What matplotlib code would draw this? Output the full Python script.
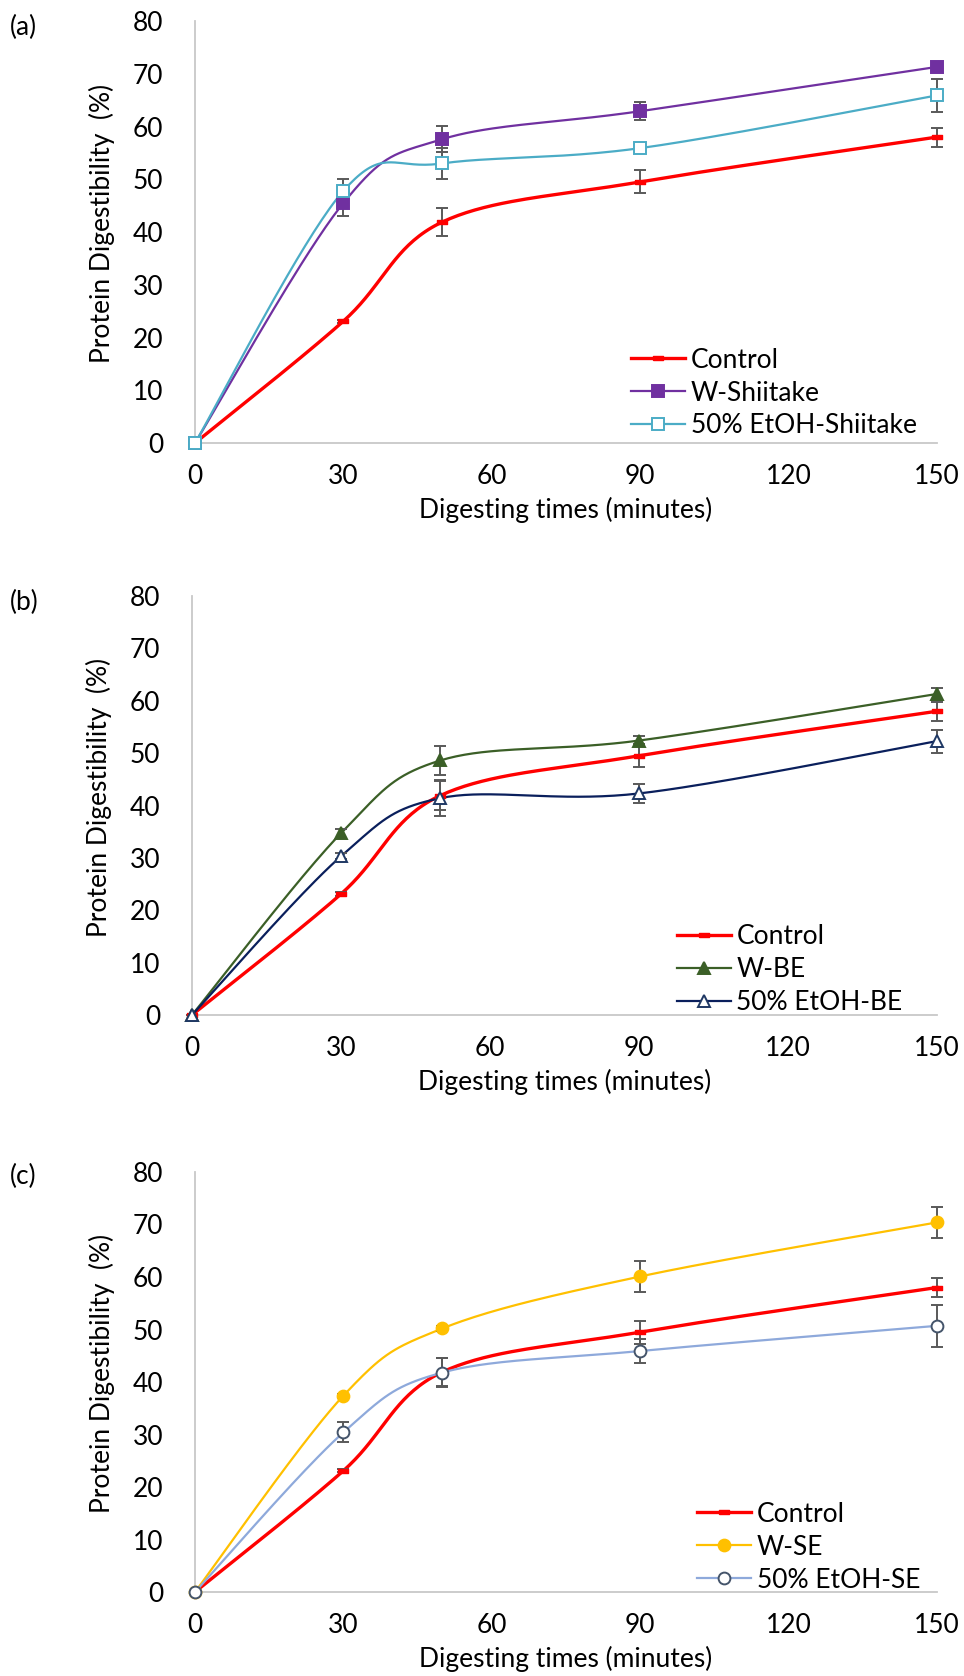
import numpy as np
import matplotlib
matplotlib.use('Agg')
import matplotlib.pyplot as plt
from matplotlib.lines import Line2D

plt.rcParams['font.family'] = ['Lato', 'DejaVu Sans']

# digestion time points (minutes)
times = [0, 30, 50, 90, 150]

control = [0, 23.1, 41.9, 49.5, 58.0]
control_err = [0, 0.3, 2.7, 2.2, 1.8]

# panel (a)
w_shiitake = [0, 45.5, 57.6, 62.9, 71.3]
w_shiitake_err = [0, 2.4, 2.5, 1.7, 0.4]
etoh_shiitake = [0, 47.8, 53.0, 55.9, 65.9]
etoh_shiitake_err = [0, 2.3, 2.9, 0.9, 3.1]

# panel (b)
w_be = [0, 34.7, 48.6, 52.4, 61.3]
w_be_err = [0, 0.9, 2.8, 0.9, 1.2]
etoh_be = [0, 30.3, 41.4, 42.3, 52.3]
etoh_be_err = [0, 0.6, 3.5, 1.8, 2.2]

# panel (c)
w_se = [0, 37.4, 50.2, 60.1, 70.4]
w_se_err = [0, 0.4, 0.5, 2.9, 2.9]
etoh_se = [0, 30.4, 41.8, 45.9, 50.7]
etoh_se_err = [0, 1.9, 2.8, 2.3, 4.0]

xticks = [0, 30, 60, 90, 120, 150]
yticks = [0, 10, 20, 30, 40, 50, 60, 70, 80]

FS = 19


def smooth(x, y, n=40):
    # excel-like smoothed line (catmull-rom as cubic bezier)
    pts = np.column_stack([x, y]).astype(float)
    pts = np.vstack([pts[0], pts, pts[-1]])
    out = []
    t = np.linspace(0, 1, n)[:, None]
    for i in range(1, len(pts) - 2):
        p0, p1, p2, p3 = pts[i - 1], pts[i], pts[i + 1], pts[i + 2]
        c1 = p1 + (p2 - p0) / 6
        c2 = p2 - (p3 - p1) / 6
        seg = ((1 - t) ** 3) * p1 + 3 * ((1 - t) ** 2) * t * c1 + 3 * (1 - t) * t ** 2 * c2 + t ** 3 * p2
        out.append(seg)
    out = np.vstack(out)
    return out[:, 0], out[:, 1]


# small flat rectangle used by excel for the control series
dash = [(-1, -0.45), (1, -0.45), (1, 0.45), (-1, 0.45), (-1, -0.45)]

fig = plt.figure(figsize=(9.64, 16.76), dpi=100)

# axes rectangles in figure fraction
rects = [
    [195 / 964, 1 - 443 / 1676, 742 / 964, 422 / 1676],
    [192 / 964, 1 - 1015 / 1676, 745 / 964, 419 / 1676],
    [195 / 964, 1 - 1592 / 1676, 742 / 964, 420 / 1676],
]

panels = [
    ('(a)', [
        ('Control', control, control_err, '#FF0000', 'dash', '#FF0000', '#FF0000', 2.4),
        ('W-Shiitake', w_shiitake, w_shiitake_err, '#7030A0', 's', '#7030A0', '#7030A0', 1.6),
        ('50% EtOH-Shiitake', etoh_shiitake, etoh_shiitake_err, '#4BACC6', 's', 'white', '#4BACC6', 1.6),
    ], (0.588, 0.226)),
    ('(b)', [
        ('Control', control, control_err, '#FF0000', 'dash', '#FF0000', '#FF0000', 2.4),
        ('W-BE', w_be, w_be_err, '#3B5F27', '^', '#3B5F27', '#3B5F27', 1.6),
        ('50% EtOH-BE', etoh_be, etoh_be_err, '#0A1F5C', '^', 'white', '#1F3864', 1.6),
    ], (0.651, 0.216)),
    ('(c)', [
        ('Control', control, control_err, '#FF0000', 'dash', '#FF0000', '#FF0000', 2.4),
        ('W-SE', w_se, w_se_err, '#FFC000', 'o', '#FFC000', '#FFC000', 1.6),
        ('50% EtOH-SE', etoh_se, etoh_se_err, '#8EA9DB', 'o', 'white', '#44546A', 1.6),
    ], (0.677, 0.215)),
]

label_y = [27, 602, 1176]

for k, (tag, series, leg_pos) in enumerate(panels):
    ax = fig.add_axes(rects[k])
    handles = []
    for name, vals, errs, col, mk, fc, ec, lw in series:
        sx, sy = smooth(times, vals)
        ax.plot(sx, sy, color=col, lw=lw, zorder=2, clip_on=False)
        ax.errorbar(times, vals, yerr=errs, fmt='none', ecolor='#595959',
                    elinewidth=1.4, capsize=4, capthick=1.4, zorder=3, clip_on=False)
        if mk == 'dash':
            ax.plot(times, vals, ls='none', marker=dash, ms=7, mfc=col, mec=col,
                    zorder=4, clip_on=False)
            h = Line2D([], [], color=col, lw=lw, marker=dash, ms=7, mfc=col, mec=col)
        else:
            ms = 9 if mk == '^' else 8.5
            ax.plot(times, vals, ls='none', marker=mk, ms=ms, mfc=fc, mec=ec, mew=1.4,
                    zorder=4, clip_on=False)
            h = Line2D([], [], color=col, lw=lw, marker=mk, ms=ms, mfc=fc, mec=ec, mew=1.4)
        handles.append(h)

    ax.set_xlim(0, 150)
    ax.set_ylim(0, 80)
    ax.set_xticks(xticks)
    ax.set_yticks(yticks)
    ax.tick_params(length=0, labelsize=FS, colors='black')
    ax.tick_params(axis='y', pad=23)
    ax.tick_params(axis='x', pad=15)
    for s in ['top', 'right']:
        ax.spines[s].set_visible(False)
    ax.spines['left'].set_color('#C8C8C8')
    ax.spines['bottom'].set_color('#C8C8C8')
    ax.spines['left'].set_linewidth(1.3)
    ax.spines['bottom'].set_linewidth(1.3)
    ax.set_facecolor('none')

    ax.set_ylabel('Protein Digestibility  (%)', fontsize=FS, va='center')
    ax.yaxis.set_label_coords(-0.125, 0.52)
    ax.set_xlabel('Digesting times (minutes)', fontsize=FS, va='center')
    ax.xaxis.set_label_coords(0.5, -0.159)

    ax.legend(handles, [s[0] for s in series], loc='upper left', bbox_to_anchor=leg_pos,
              frameon=False, fontsize=FS, handlelength=2.05, handletextpad=0.2,
              labelspacing=0.3, borderpad=0, borderaxespad=0)

    fig.text(10 / 964, 1 - label_y[k] / 1676, tag, fontsize=FS, va='center', ha='left')

fig.savefig('out.png', dpi=100)
